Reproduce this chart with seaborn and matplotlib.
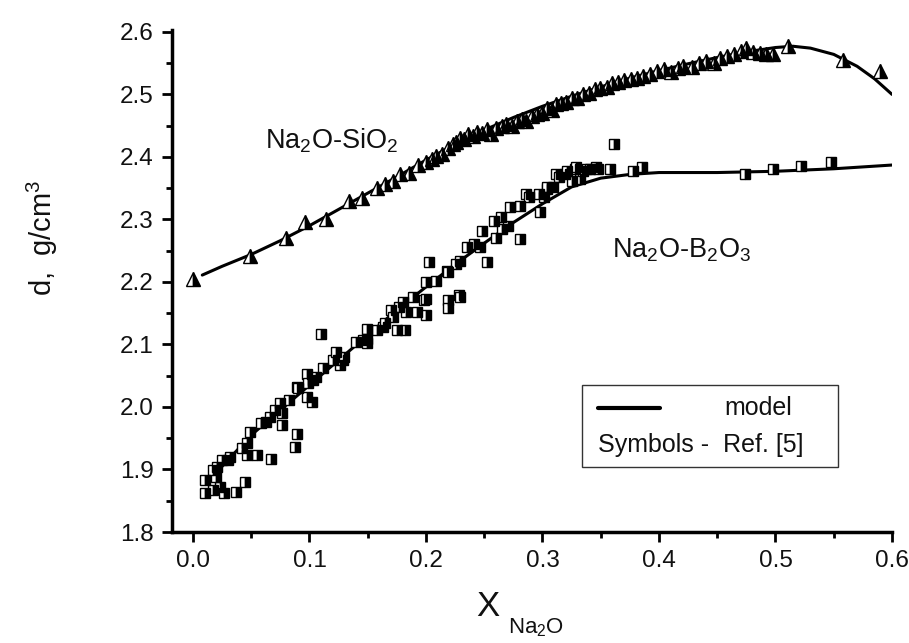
import numpy as np
import pandas as pd
import matplotlib
matplotlib.use("Agg")
import matplotlib.pyplot as plt
from matplotlib.ticker import MultipleLocator
from matplotlib.patches import Rectangle
import seaborn as sns

# ---------------- data ----------------
sio2_x = [0.000, 0.049, 0.080, 0.096, 0.114, 0.134, 0.145, 0.158, 0.165, 0.172,
          0.178, 0.185, 0.193, 0.200, 0.205, 0.209, 0.214, 0.219, 0.223, 0.226,
          0.229, 0.233, 0.236, 0.240, 0.244, 0.248, 0.252, 0.256, 0.260, 0.265,
          0.269, 0.274, 0.278, 0.282, 0.286, 0.291, 0.295, 0.300, 0.304, 0.308,
          0.312, 0.316, 0.320, 0.325, 0.330, 0.335, 0.340, 0.345, 0.349, 0.355,
          0.360, 0.365, 0.370, 0.376, 0.381, 0.386, 0.392, 0.398, 0.404, 0.410,
          0.416, 0.421, 0.428, 0.434, 0.440, 0.447, 0.452, 0.458, 0.464, 0.470,
          0.475, 0.481, 0.487, 0.492, 0.498, 0.511, 0.558, 0.590]
sio2_y = [2.205, 2.242, 2.270, 2.296, 2.300, 2.330, 2.335, 2.350, 2.357, 2.362,
          2.372, 2.375, 2.387, 2.392, 2.396, 2.401, 2.404, 2.414, 2.420, 2.424,
          2.430, 2.428, 2.436, 2.434, 2.440, 2.438, 2.444, 2.436, 2.447, 2.449,
          2.452, 2.450, 2.457, 2.460, 2.458, 2.466, 2.468, 2.470, 2.478, 2.475,
          2.484, 2.486, 2.488, 2.494, 2.495, 2.500, 2.503, 2.508, 2.510, 2.512,
          2.518, 2.520, 2.523, 2.525, 2.527, 2.530, 2.533, 2.537, 2.540, 2.536,
          2.542, 2.545, 2.544, 2.550, 2.553, 2.551, 2.558, 2.562, 2.565, 2.570,
          2.574, 2.568, 2.566, 2.565, 2.564, 2.578, 2.555, 2.538]

b2o3_x = [0.010, 0.010, 0.017, 0.023, 0.027, 0.037, 0.045, 0.020, 0.017, 0.021,
          0.025, 0.030, 0.032, 0.042, 0.046, 0.046, 0.049, 0.055, 0.058, 0.063,
          0.066, 0.067, 0.070, 0.075, 0.076, 0.076, 0.082, 0.088, 0.089, 0.089,
          0.090, 0.098, 0.098, 0.099, 0.102, 0.103, 0.106, 0.110, 0.112, 0.120,
          0.123, 0.126, 0.129, 0.130, 0.140, 0.146, 0.149, 0.149, 0.149, 0.158,
          0.163, 0.165, 0.170, 0.172, 0.175, 0.177, 0.180, 0.182, 0.183, 0.189,
          0.192, 0.198, 0.200, 0.200, 0.200, 0.203, 0.209, 0.218, 0.219, 0.219,
          0.219, 0.226, 0.228, 0.229, 0.229, 0.235, 0.241, 0.246, 0.248, 0.252,
          0.258, 0.260, 0.264, 0.265, 0.270, 0.272, 0.281, 0.281, 0.286, 0.288,
          0.297, 0.298, 0.301, 0.304, 0.304, 0.309, 0.312, 0.314, 0.319, 0.321,
          0.325, 0.328, 0.329, 0.332, 0.335, 0.338, 0.341, 0.346, 0.348, 0.358,
          0.361, 0.378, 0.385, 0.474, 0.498, 0.522, 0.548]
b2o3_y = [1.883, 1.862, 1.867, 1.872, 1.862, 1.864, 1.880, 1.888, 1.899, 1.904,
          1.915, 1.915, 1.920, 1.934, 1.942, 1.923, 1.960, 1.923, 1.974, 1.976,
          1.984, 1.917, 1.995, 2.006, 1.990, 1.971, 2.011, 1.936, 1.957, 2.032,
          2.030, 2.053, 2.016, 2.038, 2.008, 2.043, 2.048, 2.116, 2.062, 2.075,
          2.088, 2.067, 2.075, 2.080, 2.104, 2.107, 2.125, 2.109, 2.102, 2.123,
          2.128, 2.135, 2.155, 2.144, 2.123, 2.160, 2.168, 2.123, 2.152, 2.176,
          2.152, 2.171, 2.173, 2.147, 2.200, 2.232, 2.202, 2.218, 2.216, 2.171,
          2.158, 2.229, 2.179, 2.176, 2.234, 2.256, 2.261, 2.256, 2.282, 2.232,
          2.298, 2.270, 2.304, 2.285, 2.290, 2.320, 2.269, 2.322, 2.341, 2.336,
          2.341, 2.312, 2.336, 2.349, 2.352, 2.352, 2.373, 2.368, 2.373, 2.378,
          2.362, 2.381, 2.384, 2.365, 2.378, 2.381, 2.381, 2.384, 2.381, 2.381,
          2.421, 2.378, 2.384, 2.373, 2.381, 2.386, 2.392]

model_sio2_x = [0.008, 0.025, 0.050, 0.075, 0.100, 0.125, 0.150, 0.175, 0.200,
                0.225, 0.250, 0.275, 0.300, 0.325, 0.350, 0.375, 0.400, 0.425,
                0.450, 0.475, 0.500, 0.515, 0.530, 0.550, 0.570, 0.585, 0.600]
model_sio2_y = [2.211, 2.225, 2.244, 2.266, 2.290, 2.316, 2.342, 2.368, 2.395,
                2.420, 2.443, 2.463, 2.481, 2.497, 2.512, 2.526, 2.538, 2.549,
                2.559, 2.568, 2.575, 2.577, 2.574, 2.564, 2.545, 2.525, 2.500]

model_b2o3_x = [0.012, 0.025, 0.050, 0.075, 0.100, 0.125, 0.150, 0.175, 0.200,
                0.225, 0.250, 0.275, 0.300, 0.325, 0.350, 0.375, 0.400, 0.450,
                0.500, 0.550, 0.600]
model_b2o3_y = [1.880, 1.905, 1.955, 1.995, 2.035, 2.075, 2.115, 2.155, 2.192,
                2.228, 2.262, 2.295, 2.325, 2.352, 2.366, 2.372, 2.375, 2.375,
                2.377, 2.381, 2.387]

x_ticks = [0.0, 0.1, 0.2, 0.3, 0.4, 0.5, 0.6]
y_ticks = [1.8, 1.9, 2.0, 2.1, 2.2, 2.3, 2.4, 2.5, 2.6]

# ---------------- style ----------------
sns.set_style("ticks")
plt.rcParams["font.family"] = ["Liberation Sans", "DejaVu Sans"]
plt.rcParams["mathtext.default"] = "regular"

fig = plt.figure(figsize=(9.09, 6.43), dpi=100)
ax = fig.add_axes([172 / 909, 1 - 532 / 643, 720 / 909, 502 / 643])

df_si = pd.DataFrame({"x": sio2_x, "y": sio2_y})
df_b = pd.DataFrame({"x": b2o3_x, "y": b2o3_y})
df_msi = pd.DataFrame({"x": model_sio2_x, "y": model_sio2_y})
df_mb = pd.DataFrame({"x": model_b2o3_x, "y": model_b2o3_y})

# model curves
for d in (df_msi, df_mb):
    sns.lineplot(data=d, x="x", y="y", ax=ax, color="black", linewidth=2.2,
                 estimator=None, sort=False, zorder=2)

# half-filled symbols
sns.lineplot(data=df_si, x="x", y="y", ax=ax, estimator=None, sort=False,
             linestyle="none", marker="^", markersize=10, color="black",
             markerfacecolor="white", markerfacecoloralt="black",
             fillstyle="left", markeredgecolor="black", markeredgewidth=1.0,
             zorder=3)
sns.lineplot(data=df_b, x="x", y="y", ax=ax, estimator=None, sort=False,
             linestyle="none", marker="s", markersize=7.8, color="black",
             markerfacecolor="white", markerfacecoloralt="black",
             fillstyle="left", markeredgecolor="black", markeredgewidth=1.0,
             zorder=3)

ax.set_xlim(-0.018, 0.6)
ax.set_ylim(1.8, 2.603)
ax.set_xticks(x_ticks)
ax.set_xticklabels([f"{v:.1f}" for v in x_ticks])
ax.set_yticks(y_ticks)
ax.set_yticklabels([f"{v:.1f}" for v in y_ticks])
ax.xaxis.set_minor_locator(MultipleLocator(0.05))
ax.yaxis.set_minor_locator(MultipleLocator(0.05))
ax.tick_params(axis="both", which="major", direction="out", length=7, width=2,
               labelsize=17.5, color="black", labelcolor="#111111", pad=6)
ax.tick_params(axis="both", which="minor", direction="out", length=4, width=2,
               color="black")
for side in ("top", "right"):
    ax.spines[side].set_visible(False)
for side in ("left", "bottom"):
    ax.spines[side].set_linewidth(2.5)
    ax.spines[side].set_color("black")
ax.set_xlabel("")
ax.set_ylabel("")

# labels
fig.text(42 / 909, 1 - 238 / 643, r"d,  g/cm$^3$", rotation=90, ha="center",
         va="center", fontsize=21, color="#111111")
fig.text(488 / 909, 1 - 606 / 643, "X", ha="center", va="center",
         fontsize=25, color="#111111")
fig.text(508 / 909, 1 - 628 / 643, r"Na$_2$O", ha="left", va="center",
         fontsize=16, color="#111111")

ax.text(0.062, 2.413, r"Na$_2$O-SiO$_2$", ha="left", va="baseline",
        fontsize=19.5, color="#111111")
ax.text(0.36, 2.239, r"Na$_2$O-B$_2$O$_3$", ha="left", va="baseline",
        fontsize=19.5, color="#111111")

# legend box
ax.add_patch(Rectangle((0.569, 0.129), 0.925 - 0.569, 0.293 - 0.129,
                       transform=ax.transAxes, fill=False, edgecolor="#333333",
                       linewidth=1.0, zorder=4))
ax.plot([0.592, 0.678], [0.247, 0.247], transform=ax.transAxes,
        color="black", linewidth=3, zorder=5)
ax.text(0.814, 0.247, "model", transform=ax.transAxes, ha="center",
        va="center", fontsize=18, color="#111111")
ax.text(0.592, 0.173, "Symbols -  Ref. [5]", transform=ax.transAxes,
        ha="left", va="center", fontsize=18, color="#111111")

fig.savefig("out.png", dpi=100)
